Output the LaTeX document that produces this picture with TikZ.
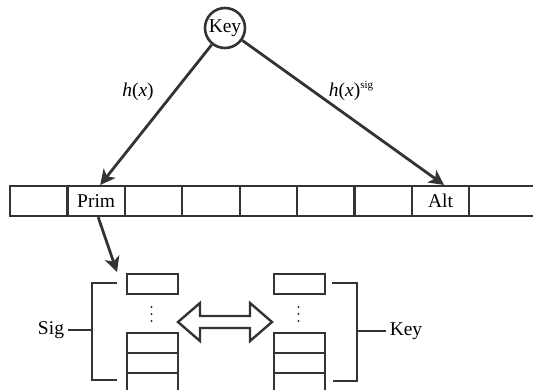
\documentclass[tikz,border=0pt]{standalone}
\usepackage{fontspec}
\setmainfont{Liberation Serif}
\usetikzlibrary{arrows.meta}
\definecolor{ink}{HTML}{333333}
\begin{document}
\begin{tikzpicture}[x=1pt,y=-1pt,
  txt/.style={font=\fontsize{19.5}{22}\selectfont, text=black},
  cell/.style={draw=ink, line width=2.2pt, minimum width=57.4pt, minimum height=30pt, inner sep=0pt, anchor=north west, txt},
  slot/.style={draw=ink, line width=2.2pt, minimum width=51pt, minimum height=20pt, inner sep=0pt, anchor=north west},
  conn/.style={draw=ink, line width=2.8pt, -{Stealth[length=15pt,width=15pt,inset=4pt]}},
  brk/.style={draw=ink, line width=2.8pt},
  dbl/.style={draw=ink, line width=2.4pt, fill=white, line join=miter},
  dot/.style={fill=ink}]
\useasboundingbox (0,0) rectangle (533,389);
\clip (0,0) rectangle (533,389);
% key
\node[draw=ink, line width=2.6pt, circle, minimum size=40pt, inner sep=0pt, txt] (key) at (225,28) {Key};
% array
\node[cell] (c0) at (9,185) {};
\node[cell] (c1) at (66.4,185) {Prim};
\node[cell] (c2) at (123.8,185) {};
\node[cell] (c3) at (181.2,185) {};
\node[cell] (c4) at (238.6,185) {};
\node[cell] (c5) at (296,185) {};
\node[cell] (c6) at (353.4,185) {};
\node[cell] (c7) at (410.8,185) {Alt};
\node[cell, minimum width=80pt] (c8) at (468.2,185) {};
% labels
\node[txt] (hx) at (138,92) {\textit{h}(\textit{x})};
\node[txt] (hxs) at (351,91) {\textit{h}(\textit{x})\raisebox{0.42em}{\fontsize{11}{11}\selectfont sig}};
% connectors from key
\draw[conn] (key) -- ([xshift=4pt]c1.north);
\draw[conn] (key) -- ([xshift=3.5pt]c7.north);
% left stack
\node[slot] (ls0) at (126,273) {};
\node[slot] (ls1) at (126,332) {};
\node[slot] (ls2) at (126,352) {};
\node[slot] (ls3) at (126,372) {};
% right stack
\node[slot] (rs0) at (273,273) {};
\node[slot] (rs1) at (273,332) {};
\node[slot] (rs2) at (273,352) {};
\node[slot] (rs3) at (273,372) {};
% dots
\fill[dot] (151.5,307) circle (1.2pt) (151.5,314) circle (1.2pt) (151.5,321) circle (1.2pt);
\fill[dot] (298.5,307) circle (1.2pt) (298.5,314) circle (1.2pt) (298.5,321) circle (1.2pt);
% prim down arrow
\coordinate (ptip) at (117,272);
\draw[conn] ([xshift=2pt]c1.south) -- (ptip);
% double arrow
\draw[dbl] (178,322) -- (200,303) -- (200,316) -- (250,316) -- (250,303) -- (272,322) -- (250,341) -- (250,328) -- (200,328) -- (200,341) -- cycle;
% brackets
\node[txt] (sig) at (51,330) {Sig};
\node[txt] (keyl) at (406,331) {Key};
\draw[brk] (117,283) -- (92,283) -- (92,380) -- (117,380);
\draw[brk] (sig.east) -- (92,330);
\draw[brk] (332,283) -- (357,283) -- (357,381) -- (333,381);
\draw[brk] (357,331) -- (keyl.west);
\end{tikzpicture}
\end{document}
